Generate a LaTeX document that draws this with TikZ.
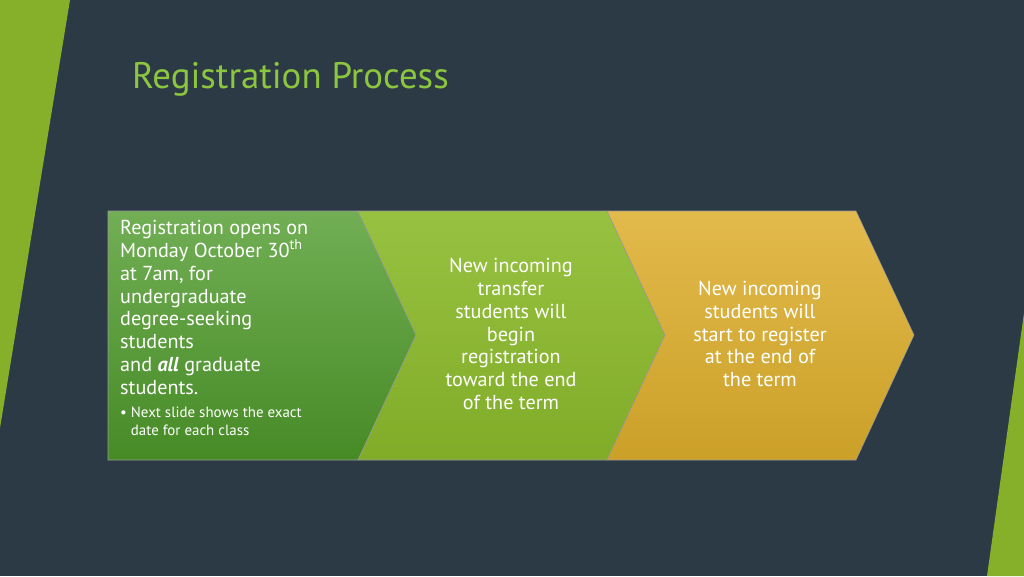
\documentclass[tikz,border=0pt]{standalone}
\usepackage{fontspec}
\setmainfont{PT Sans}
\usetikzlibrary{positioning}
\definecolor{slate}{HTML}{2C3A46}
\definecolor{lime}{HTML}{86B029}
\definecolor{titlegreen}{HTML}{8CC63F}
\definecolor{stepone}{HTML}{4E9A2A}
\definecolor{steptwo}{HTML}{8CBB2C}
\definecolor{stepthree}{HTML}{DDAE2C}
\tikzset{
  steptext/.style={text=white,font=\fontsize{11.5}{13}\selectfont,align=center},
  chevron/.style={draw=black!40,line width=0.3pt}
}
\begin{document}
\begin{tikzpicture}[x=0.02cm,y=-0.02cm]
    % background and side strips
    \fill[slate] (0,0) rectangle (1024,576);
    \useasboundingbox (0,0) rectangle (1024,576);
    \fill[lime] (0,0) -- (70,0) -- (0,428) -- cycle;
    \fill[lime] (1024,313) -- (1024,576) -- (987,576) -- cycle;

    \node[anchor=west,text=titlegreen,font=\fontsize{21}{24}\selectfont] (title) at (126,79) {Registration Process};

    % the three steps
    \draw[chevron,top color=stepone!80!white,bottom color=stepone!90!black] (108,211) -- (358,211) -- (416,335) -- (358,460) -- (108,460) -- cycle;
    \draw[chevron,top color=steptwo!90!white,bottom color=steptwo!92!black] (358,211) -- (607,211) -- (665,335) -- (607,460) -- (358,460) -- (416,335) -- cycle;
    \draw[chevron,top color=stepthree!85!white,bottom color=stepthree!92!black] (607,211) -- (856,211) -- (914,335) -- (856,460) -- (607,460) -- (665,335) -- cycle;

    \node[steptext,align=left,anchor=north west] (first) at (114,214) {Registration opens on\\Monday October 30\textsuperscript{th}\\at 7am, for\\undergraduate\\degree-seeking\\students\\and \textbf{\textit{all}} graduate\\students.};
    \node[text=white,font=\fontsize{8.5}{10}\selectfont,align=left,anchor=north west,below=0pt of first.south west,anchor=north west] (note) {\textbullet\ Next slide shows the exact\\\phantom{\textbullet\ }date for each class};
    \node[steptext] (second) at (511,334) {New incoming\\transfer\\students will\\begin\\registration\\toward the end\\of the term};
    \node[steptext] (third) at (760,334) {New incoming\\students will\\start to register\\at the end of\\the term};
\end{tikzpicture}
\end{document}
